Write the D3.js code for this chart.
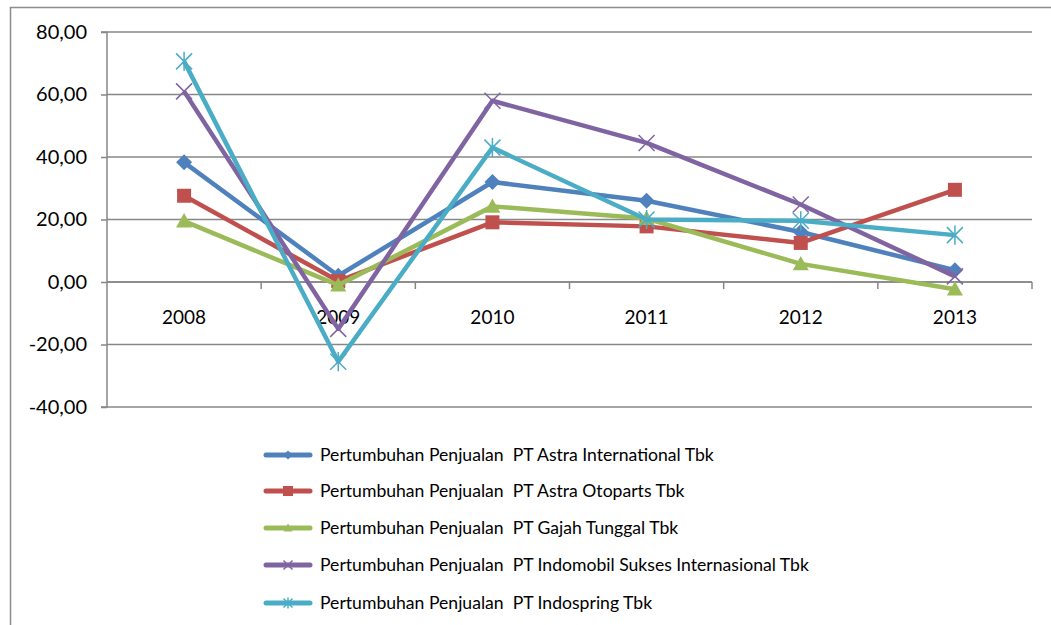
<!DOCTYPE html>
<html><head><meta charset="utf-8">
<script src="https://cdn.jsdelivr.net/npm/d3@7"></script>
<style>
html,body{margin:0;padding:0;background:#fff;}
svg text{font-family:Lato,"Open Sans",sans-serif;fill:#000;}
</style></head>
<body>
<svg id="c" width="1051" height="625"></svg>
<script>
const years = ["2008","2009","2010","2011","2012","2013"];
const yTicks = [-40,-20,0,20,40,60,80];
const seriesNames = [
  "Pertumbuhan Penjualan  PT Astra International Tbk",
  "Pertumbuhan Penjualan  PT Astra Otoparts Tbk",
  "Pertumbuhan Penjualan  PT Gajah Tunggal Tbk",
  "Pertumbuhan Penjualan  PT Indomobil Sukses Internasional Tbk",
  "Pertumbuhan Penjualan  PT Indospring Tbk"
];
const astraIntl   = [38.3, 2.0, 32.0, 26.0, 16.0, 3.8];
const astraOto    = [27.6, 0.3, 19.1, 17.8, 12.5, 29.5];
const gajah       = [19.5, -1.0, 24.2, 20.3, 5.8, -2.3];
const indomobil   = [61.0, -15.0, 58.0, 44.5, 24.8, 1.8];
const indospring  = [70.6, -25.5, 43.0, 20.0, 19.6, 15.0];
const seriesValues = [astraIntl, astraOto, gajah, indomobil, indospring];
const colors = ["#4F81BD","#C0504D","#9BBB59","#8064A2","#4BACC6"];
const markers = ["diamond","square","triangle","x","star"];

const svg = d3.select("#c");
const L = 107, R = 1032, T = 32, B = 407;
const x = d3.scaleBand().domain(years).range([L, R]);
const y = d3.scaleLinear().domain([-40, 80]).range([B, T]);
const grid = "#878787";

// outer border
svg.append("path").attr("d", `M10.5,625 L10.5,7.5 L1051,7.5`)
  .attr("fill","none").attr("stroke","#8c8c8c").attr("stroke-width",1.5);

// gridlines
svg.append("g").selectAll("line").data(yTicks).join("line")
  .attr("x1", L).attr("x2", R).attr("y1", d=>y(d)).attr("y2", d=>y(d))
  .attr("stroke", grid).attr("stroke-width", 1.5);

// y axis
const yAxis = d3.axisLeft(y).tickValues(yTicks).tickSize(6).tickPadding(14)
  .tickFormat(d => d3.format(".2f")(d).replace(".", ",").replace("\u2212", "-"));
const gy = svg.append("g").attr("transform", `translate(${L},0)`).call(yAxis);
gy.select(".domain").attr("stroke", grid).attr("stroke-width",1.5).attr("d", `M-6,${T}H0V${B}H-6`);
gy.selectAll(".tick line").attr("stroke", grid).attr("stroke-width",1.5);
gy.selectAll(".tick text").attr("font-size", 20).attr("font-family","Lato").attr("fill","#000");

// x axis at zero
const gx = svg.append("g").attr("transform", `translate(0,${y(0)})`);
gx.append("line").attr("x1", L).attr("x2", R).attr("stroke", grid).attr("stroke-width",1.5);
const bounds = years.map(d => x(d)).concat([R]);
gx.selectAll("line.tk").data(bounds.slice(1)).join("line").attr("class","tk")
  .attr("x1", d=>d).attr("x2", d=>d).attr("y1",0).attr("y2",7)
  .attr("stroke", grid).attr("stroke-width",1.5);
gx.selectAll("text").data(years).join("text")
  .attr("x", d => x(d) + x.bandwidth()/2).attr("y", 42)
  .attr("text-anchor","middle").attr("font-size",19).text(d=>d);

// marker drawing
function drawMarker(g, type, cx, cy, color, s) {
  if (type === "diamond") {
    g.append("path").attr("d", `M${cx},${cy-s} L${cx+s},${cy} L${cx},${cy+s} L${cx-s},${cy} Z`).attr("fill", color);
  } else if (type === "square") {
    g.append("rect").attr("x", cx-s).attr("y", cy-s).attr("width", 2*s).attr("height", 2*s).attr("fill", color);
  } else if (type === "triangle") {
    g.append("path").attr("d", `M${cx},${cy-s} L${cx+s},${cy+s*0.8} L${cx-s},${cy+s*0.8} Z`).attr("fill", color);
  } else if (type === "x") {
    g.append("path").attr("d", `M${cx-s},${cy-s} L${cx+s},${cy+s} M${cx-s},${cy+s} L${cx+s},${cy-s}`)
      .attr("stroke", color).attr("stroke-width",1.5);
  } else if (type === "star") {
    g.append("path").attr("d", `M${cx-s},${cy-s} L${cx+s},${cy+s} M${cx-s},${cy+s} L${cx+s},${cy-s} M${cx},${cy-s*1.2} L${cx},${cy+s*1.2}`)
      .attr("stroke", color).attr("stroke-width",1.5);
  }
}

const line = d3.line().x((d,i) => x(years[i]) + x.bandwidth()/2).y(d => y(d));
seriesValues.forEach((vals, si) => {
  const g = svg.append("g");
  g.append("path").datum(vals).attr("d", line).attr("fill","none")
    .attr("stroke", colors[si]).attr("stroke-width", 4.5).attr("stroke-linejoin","round");
  vals.forEach((v, i) => {
    const size = markers[si]==="square" ? 7 : 8;
    drawMarker(g, markers[si], x(years[i]) + x.bandwidth()/2, y(v), colors[si], size);
  });
});

// legend
const legY = [455, 491, 528, 565, 603];
seriesNames.forEach((name, si) => {
  const g = svg.append("g").attr("transform", `translate(0,${legY[si]})`);
  g.append("line").attr("x1", 266).attr("x2", 310).attr("y1",0).attr("y2",0)
    .attr("stroke", colors[si]).attr("stroke-width", 5).attr("stroke-linecap","round");
  drawMarker(g, markers[si], 288, 0, colors[si], markers[si]==="square"?5:4.5);
  g.append("text").attr("x", 320).attr("y", 6).attr("font-size", 17.6)
    .style("white-space","pre").attr("xml:space","preserve").text(name);
});
</script>
</body></html>
